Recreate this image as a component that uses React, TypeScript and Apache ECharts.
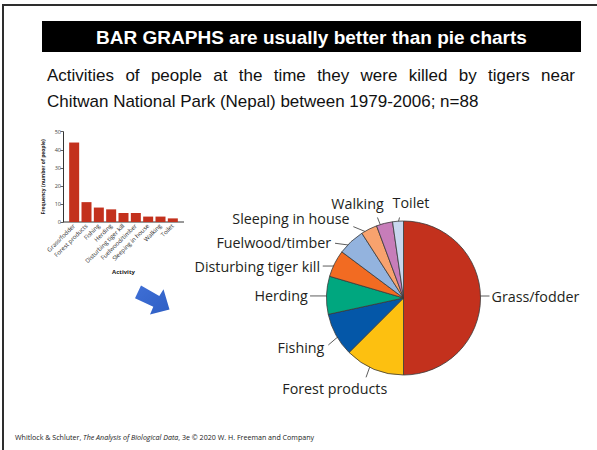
import React, { useEffect, useRef } from "react";
import * as echarts from "echarts";

// Activities at the time of attack, Chitwan National Park, 1979-2006 (n = 88)
const activities = [
  "Grass/fodder",
  "Forest products",
  "Fishing",
  "Herding",
  "Disturbing tiger kill",
  "Fuelwood/timber",
  "Sleeping in house",
  "Walking",
  "Toilet",
];
const deaths = [44, 11, 8, 7, 5, 5, 3, 3, 2];
const sliceColors = [
  "#C3311D",
  "#FDC010",
  "#0457A8",
  "#00A77F",
  "#F26B22",
  "#93B3DE",
  "#F8A26E",
  "#C77DB9",
  "#C8D7EF",
];
const barColor = "#C3311D";

const titleText = "BAR GRAPHS are usually better than pie charts";
const subtitleLines = [
  "Activities of people at the time they were killed by tigers near",
  "Chitwan National Park (Nepal) between 1979-2006; n=88",
];

const LABEL_FONT = "'Open Sans', 'Noto Sans', sans-serif";
const SUB_FONT = "'Liberation Sans', Arial, sans-serif";

// pie geometry
const PIE_CX = 403.5;
const PIE_CY = 298;
const PIE_R = 77;

// label guide offsets, relative to the slice's outer mid point:
// s = line start, e = line end, t = text anchor relative to line end
const labelGuides = [
  { s: [-1, -2], e: [9, -2], t: [2, 0], align: "left" },
  { s: [-3, -5.8], e: [-8, 8.2], t: [-31.3, 11], align: "center" },
  { s: [4.1, 0.1], e: [-7.6, 10.1], t: [-4, 2.3], align: "right" },
  { s: [2.5, 0.7], e: [-16.5, 0.7], t: [-2.3, 0], align: "right" },
  { s: [2.1, 2.5], e: [-11.9, 2.5], t: [-2.7, 0], align: "right" },
  { s: [2.3, 4], e: [-16, 1.6], t: [-4, -1], align: "right" },
  { s: [0.3, 4.1], e: [-15.7, -2.5], t: [-3.8, -8], align: "right" },
  { s: [-2.5, 5.6], e: [-7, -5.9], t: [-20, -13.5], align: "center" },
  { s: [-0.5, 4.3], e: [1.5, -3.7], t: [11.5, -14.5], align: "center" },
];

const total = deaths.reduce((a, b) => a + b, 0);
const midAngles = deaths.map((v, i) => {
  const before = deaths.slice(0, i).reduce((a, b) => a + b, 0);
  return ((before + v / 2) / total) * Math.PI * 2;
});

function measure(text: string, font: string): number {
  const ctx = document.createElement("canvas").getContext("2d");
  if (!ctx) return text.length * 8;
  ctx.font = font;
  return ctx.measureText(text).width;
}

// lay the first subtitle line out justified between two edges
function justifiedWords(line: string, left: number, right: number, y: number, size: number) {
  const words = line.split(" ");
  const font = `${size}px Liberation Sans`;
  const widths = words.map((w) => measure(w, font));
  const gap = (right - left - widths.reduce((a, b) => a + b, 0)) / (words.length - 1);
  let x = left;
  return words.map((w, i) => {
    const el = {
      type: "text",
      x,
      y,
      style: {
        text: w,
        fontFamily: SUB_FONT,
        fontSize: size,
        fill: "#111",
        align: "left",
        verticalAlign: "middle",
      },
    };
    x += widths[i] + gap;
    return el;
  });
}

export default function App() {
  const ref = useRef<HTMLDivElement>(null);

  useEffect(() => {
    if (!ref.current) return;
    const chart = echarts.init(ref.current, undefined, { renderer: "svg" });

    const subSize = 17;
    const graphic: any[] = [
      {
        type: "polyline",
        shape: { points: [[3, 452], [3, 5], [600, 5]] },
        style: { stroke: "#2e2e2e", lineWidth: 2, fill: "none" },
      },
      {
        type: "rect",
        shape: { x: 42, y: 21, width: 539, height: 31 },
        style: { fill: "#000" },
      },
      {
        type: "text",
        x: 311.5,
        y: 37,
        style: {
          text: titleText,
          fontFamily: SUB_FONT,
          fontWeight: "bold",
          fontSize: 19,
          fill: "#fff",
          align: "center",
          verticalAlign: "middle",
        },
      },
      ...justifiedWords(subtitleLines[0], 47, 575, 75, subSize),
      {
        type: "text",
        x: 47,
        y: 101,
        style: {
          text: subtitleLines[1],
          fontFamily: SUB_FONT,
          fontSize: subSize,
          fill: "#111",
          align: "left",
          verticalAlign: "middle",
        },
      },
      // x-axis baseline of the small bar chart
      {
        type: "line",
        shape: { x1: 63, y1: 222, x2: 184, y2: 222 },
        style: { stroke: "#333", lineWidth: 1 },
      },
      // arrow pointing from the bar chart to the pie
      {
        type: "polygon",
        shape: {
          points: [
            [141, 285.5],
            [159.3, 296],
            [163.5, 289.3],
            [169.5, 309.5],
            [150, 314.5],
            [153.3, 306.7],
            [135, 298.3],
          ],
        },
        style: {
          fill: new echarts.graphic.LinearGradient(0, 0, 1, 1, [
            { offset: 0, color: "#3f6fd6" },
            { offset: 1, color: "#2f5fc4" },
          ]),
        },
      },
      {
        type: "text",
        x: 15,
        y: 437,
        style: {
          text: "Whitlock & Schluter, {i|The Analysis of Biological Data}, 3e © 2020 W. H. Freeman and Company",
          fontFamily: LABEL_FONT,
          fontSize: 7.1,
          fill: "#222",
          verticalAlign: "middle",
          rich: {
            i: { fontStyle: "italic", fontFamily: LABEL_FONT, fontSize: 7.1, fill: "#222" },
          },
        },
      },
    ];

    chart.setOption({
      animation: false,
      backgroundColor: "#fff",
      graphic,
      grid: { left: 68, top: 131.7, width: 111, height: 90.3 },
      xAxis: {
        type: "category",
        data: activities,
        axisLine: { show: false },
        axisTick: { show: false },
        axisLabel: {
          rotate: 45,
          interval: 0,
          fontSize: 6,
          color: "#333",
          margin: 3,
          fontFamily: LABEL_FONT,
        },
        name: "Activity",
        nameLocation: "middle",
        nameGap: 47,
        nameTextStyle: { fontSize: 6, fontWeight: "bold", color: "#222", fontFamily: LABEL_FONT },
      },
      yAxis: {
        type: "value",
        min: 0,
        max: 50,
        interval: 10,
        offset: 5,
        axisLine: { show: true, lineStyle: { color: "#333", width: 1 } },
        axisTick: { show: true, length: 2.5, lineStyle: { color: "#333", width: 0.8 } },
        splitLine: { show: false },
        axisLabel: { fontSize: 5.5, color: "#444", margin: 2, fontFamily: LABEL_FONT },
        name: "Frequency (number of people)",
        nameLocation: "middle",
        nameGap: 18,
        nameTextStyle: { fontSize: 5, fontWeight: "bold", color: "#222", fontFamily: LABEL_FONT },
      },
      series: [
        {
          type: "bar",
          data: deaths,
          barWidth: 10,
          itemStyle: { color: barColor },
          silent: true,
        },
        {
          type: "pie",
          center: [PIE_CX, PIE_CY],
          radius: PIE_R,
          startAngle: 90,
          clockwise: true,
          avoidLabelOverlap: false,
          silent: true,
          data: activities.map((name, i) => ({
            name,
            value: deaths[i],
            itemStyle: { color: sliceColors[i] },
          })),
          itemStyle: { borderColor: "#3a3a3a", borderWidth: 0.8 },
          label: {
            show: true,
            position: "outside",
            formatter: "{b}",
            fontFamily: LABEL_FONT,
            fontSize: 14.3,
            color: "#231F20",
          },
          labelLine: {
            show: true,
            length: 8,
            length2: 0,
            lineStyle: { color: "#333", width: 0.8 },
          },
          labelLayout: (params: any) => {
            const i = params.dataIndex;
            const a = midAngles[i];
            const p0 = [PIE_CX + PIE_R * Math.sin(a), PIE_CY - PIE_R * Math.cos(a)];
            const g = labelGuides[i];
            const start = [p0[0] + g.s[0], p0[1] + g.s[1]];
            const end = [p0[0] + g.e[0], p0[1] + g.e[1]];
            return {
              x: end[0] + g.t[0],
              y: end[1] + g.t[1],
              align: g.align,
              verticalAlign: "middle",
              labelLinePoints: [start, end],
            };
          },
        },
      ],
    });

    return () => chart.dispose();
  }, []);

  return (
    <div
      ref={ref}
      style={{ position: "fixed", left: 0, top: 0, width: 597, height: 450, background: "#fff" }}
    />
  );
}
